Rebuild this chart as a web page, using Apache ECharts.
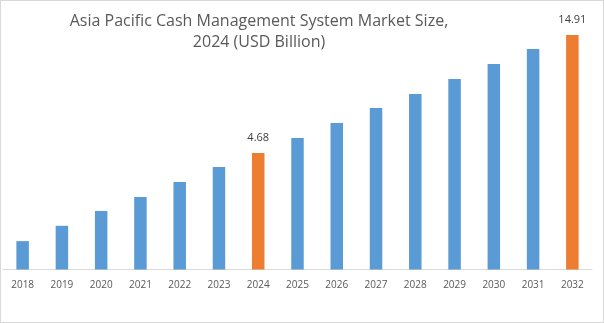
<!DOCTYPE html>
<html>
<head>
<meta charset="utf-8">
<script src="https://cdn.jsdelivr.net/npm/echarts@6/dist/echarts.min.js"></script>
<style>
  html, body { margin: 0; padding: 0; background: #fff; }
  #chart { width: 604px; height: 323px; box-sizing: border-box; border: 1px solid #d9d9d9; }
</style>
</head>
<body>
<div id="chart"></div>
<script>
// Asia Pacific cash management system market, USD billion
const years = ['2018', '2019', '2020', '2021', '2022', '2023', '2024', '2025',
               '2026', '2027', '2028', '2029', '2030', '2031', '2032'];
const marketSize = [1.97, 2.29, 2.65, 3.04, 3.52, 4.08, 4.68, 5.42,
                    6.28, 7.28, 8.35, 9.68, 11.22, 13.00, 14.91];
const highlightYears = ['2024', '2032'];
// value axis spans one decade on a log scale
const axisMin = 1.491;
const axisMax = 14.91;

const BLUE = '#5B9BD5';
const ORANGE = '#ED7D31';

const seriesData = marketSize.map((v, i) => {
  const hot = highlightYears.includes(years[i]);
  return {
    value: v,
    itemStyle: { color: hot ? ORANGE : BLUE },
    label: { show: hot }
  };
});

const chart = echarts.init(document.getElementById('chart'), null, { renderer: 'canvas' });
chart.setOption({
  animation: false,
  title: {
    text: 'Asia Pacific Cash Management System Market Size,\n2024 (USD Billion)',
    left: 253,
    top: 5,
    textAlign: 'center',
    textStyle: {
      fontFamily: 'Open Sans',
      fontSize: 16,
      fontWeight: 'normal',
      color: '#595959',
      lineHeight: 21
    }
  },
  grid: { left: 2, right: 11, top: 34, bottom: 52.5, containLabel: false },
  xAxis: {
    type: 'category',
    data: years,
    axisLine: { onZero: false, lineStyle: { color: '#d9d9d9', width: 1 } },
    axisTick: { show: false },
    axisLabel: {
      color: '#595959',
      fontFamily: 'Open Sans',
      fontSize: 10,
      margin: 11
    }
  },
  yAxis: {
    type: 'log',
    logBase: 10,
    min: axisMin,
    max: axisMax,
    show: false,
    splitLine: { show: false }
  },
  series: [{
    type: 'bar',
    data: seriesData,
    barWidth: 12.5,
    clip: true,
    label: {
      position: 'top',
      distance: 10,
      color: '#404040',
      fontFamily: 'Open Sans',
      fontSize: 11,
      formatter: p => p.value.toFixed(2)
    }
  }]
});
</script>
</body>
</html>
